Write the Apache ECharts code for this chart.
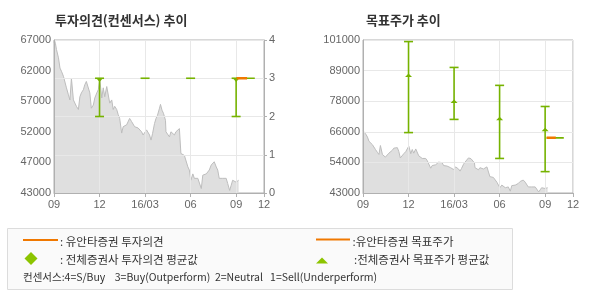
<!DOCTYPE html>
<html><head><meta charset="utf-8">
<script src="https://cdn.jsdelivr.net/npm/echarts@6/dist/echarts.min.js"></script>
<style>html,body{margin:0;padding:0;background:#fff}#c{width:590px;height:300px}</style>
</head><body><div id="c"></div><script>
// days since 2015-09-01
const priceDay = [0,1,3,5,9,12,15,19,22,25,29,32,35,39,42,45,49,52,55,59,62,65,69,72,75,79,82,86,89,92,96,99,102,106,109,112,116,119,122,126,129,132,136,139,142,146,149,152,156,159,162,166,169,172,176,179,182,186,188,192,195,198,202,205,208,212,214,217,220,224,225,229,232,235,239,242,245,249,252,253,255,259,262,265,269,272,275,279,282,286,289,292,296,299,302,306,309,312,316,319,322,326,329,332,336,339,342,346,349,353,356,359,363,366,369,371];
const priceValue = [66600,67000,66400,65500,64200,62600,62100,61300,61000,59500,58400,57600,61000,57600,57100,56600,56100,58100,58700,59200,60000,60500,60200,58700,56300,56800,57900,58700,59200,60800,57900,59500,58100,59700,60000,57100,57600,56100,56600,56100,55300,54700,52400,53400,53200,53700,53400,54700,54200,54500,53400,53700,53200,53200,52600,52100,51900,52900,52600,52100,51300,52300,53900,54700,55200,56300,56900,56000,55500,54400,52600,52300,51800,52600,52300,52100,52600,52900,53100,52900,49200,48900,48900,48700,47100,46600,45000,46000,45300,45000,45300,45300,43700,45800,45800,46000,46000,46600,47400,47600,47900,47100,46600,45300,45000,45300,45000,45300,44500,43400,44200,45000,45300,44700,45000,45000];

const xTickLabels = ['09','12','16/03','06','09','12'];
const opinionPriceTicks = ['43000','47000','52000','57000','62000','67000'];
const opinionTicks = ['0','1','2','3','4'];
const targetPriceTicks = ['43000','54000','66000','78000','89000','101000'];

const barDay = [91.5,183,274.5,366];
const opinionLow = [2,3,3,2];
const opinionHigh = [3,3,3,3];
const opinionAvg = [2.97,null,null,2.97];
const targetLow = [65900,70900,56100,51100];
const targetHigh = [100400,90600,83800,75800];
const targetAvg = [87400,77500,71000,66800];

const yuantaOpinionDay = [367,388], yuantaOpinion = 3;
const consOpinionDay = [366,403.5], consOpinion = 3;
const yuantaTargetDay = [369,387.5], yuantaTarget = 63900;
const consTargetDay = [369,403.5], consTarget = 63900;

const GREEN = '#76b300', ORANGE = '#f07800', LEG_GREEN = '#8cc400';
const AXIS = '#b0b0b0', GRIDC = '#e8e8e8', LBL = '#666';
const NUMFONT = 'Liberation Sans, Arial, sans-serif';
const KFONT = '"Noto Sans CJK KR", sans-serif';

const chart = echarts.init(document.getElementById('c'), null, {renderer:'canvas'});

function xAxis(gi){
  return {gridIndex:gi, type:'value', min:0, max:422, interval:91.5, z:3,
    axisLine:{lineStyle:{color:AXIS}}, axisTick:{show:true,length:4,lineStyle:{color:AXIS}},
    axisLabel:{color:LBL, fontSize:11, fontFamily:NUMFONT, margin:6,
      formatter:v=> v>=420 ? xTickLabels[5] : xTickLabels[Math.round(v/91.5)]},
    splitLine:{show:true, lineStyle:{color:GRIDC}}};
}
function errBars(xi, yi, lows, highs){
  return {type:'custom', xAxisIndex:xi, yAxisIndex:yi, z:10, silent:true,
    data: barDay.map((d,i)=>[d, lows[i], highs[i]]),
    renderItem(params, api){
      const x=api.value(0), lo=api.value(1), hi=api.value(2);
      const a=api.coord([x,hi]), b=api.coord([x,lo]);
      const st={stroke:GREEN, lineWidth:1.6, fill:null};
      const hw=4.5;
      const ch=[{type:'line', shape:{x1:a[0]-hw,y1:a[1],x2:a[0]+hw,y2:a[1]}, style:st}];
      if (Math.abs(b[1]-a[1])>0.5){
        ch.push({type:'line', shape:{x1:a[0],y1:a[1],x2:b[0],y2:b[1]}, style:st});
        ch.push({type:'line', shape:{x1:b[0]-hw,y1:b[1],x2:b[0]+hw,y2:b[1]}, style:st});
      }
      return {type:'group', children:ch};
    }};
}
function avgMarks(xi, yi, avgs, down){
  return {type:'custom', xAxisIndex:xi, yAxisIndex:yi, z:11, silent:true,
    data: barDay.map((d,i)=>[d, avgs[i]]).filter(p=>p[1]!=null),
    renderItem(params, api){
      const p=api.coord([api.value(0), api.value(1)]);
      const pts = down ? [[p[0]-3.5,p[1]-1.5],[p[0]+3.5,p[1]-1.5],[p[0],p[1]+2.5]]
                       : [[p[0]-3.5,p[1]+1],[p[0]+3.5,p[1]+1],[p[0],p[1]-2.5]];
      return {type:'polygon', shape:{points:pts}, style:{fill:GREEN}};
    }};
}
function seg(xi, yi, days, val, color, w, z){
  return {type:'line', xAxisIndex:xi, yAxisIndex:yi, z:z, symbol:'none', silent:true,
    data: days.map(d=>[d,val]), lineStyle:{color:color, width:w}};
}
function priceArea(xi, yi){
  return {type:'line', xAxisIndex:xi, yAxisIndex:yi, z:2, symbol:'none', silent:true,
    data: priceDay.map((d,i)=>[d, priceValue[i]]),
    lineStyle:{color:'#bdbdbd', width:1}, areaStyle:{color:'#dfdfdf', opacity:1, origin:'start'}};
}

const option = {
  animation:false,
  title:[
    {text:'투자의견(컨센서스) 추이', left:55, top:14, padding:0,
     textStyle:{fontSize:13, fontWeight:'bold', color:'#333', fontFamily:KFONT}},
    {text:'목표주가 추이', left:366, top:14, padding:0,
     textStyle:{fontSize:13, fontWeight:'bold', color:'#333', fontFamily:KFONT}}
  ],
  grid:[
    {left:54, width:210, top:40, height:153, show:true, borderColor:AXIS, borderWidth:1, backgroundColor:'#fff'},
    {left:363, width:210, top:40, height:153, show:true, borderColor:AXIS, borderWidth:1, backgroundColor:'#fff'}
  ],
  xAxis:[xAxis(0), xAxis(1)],
  yAxis:[
    {gridIndex:0, type:'value', min:0, max:5, interval:1, z:3,
      axisLine:{show:true, lineStyle:{color:AXIS}}, axisTick:{show:false},
      axisLabel:{color:LBL, fontSize:11, fontFamily:NUMFONT, margin:3, formatter:v=>opinionPriceTicks[Math.round(v)]},
      splitLine:{show:false}},
    {gridIndex:0, type:'value', position:'right', min:0, max:4, interval:1, z:3,
      axisLine:{show:true, lineStyle:{color:AXIS}}, axisTick:{show:true, length:3, lineStyle:{color:AXIS}},
      axisLabel:{color:LBL, fontSize:11, fontFamily:NUMFONT, margin:5, formatter:v=>opinionTicks[Math.round(v)]},
      splitLine:{show:true, lineStyle:{color:GRIDC}}},
    {gridIndex:0, type:'value', min:43000, max:67000, show:false, splitLine:{show:false}},
    {gridIndex:1, type:'value', min:0, max:5, interval:1, z:3,
      axisLine:{show:true, lineStyle:{color:AXIS}}, axisTick:{show:false},
      axisLabel:{color:LBL, fontSize:11, fontFamily:NUMFONT, margin:3, formatter:v=>targetPriceTicks[Math.round(v)]},
      splitLine:{show:true, lineStyle:{color:GRIDC}}},
    {gridIndex:1, type:'value', min:43000, max:101000, show:false, splitLine:{show:false}}
  ],
  series:[
    priceArea(0,2),
    seg(0,1,consOpinionDay,consOpinion,GREEN,1.6,8),
    errBars(0,1,opinionLow,opinionHigh),
    avgMarks(0,1,opinionAvg,true),
    seg(0,1,yuantaOpinionDay,yuantaOpinion,ORANGE,2.5,12),
    priceArea(1,4),
    errBars(1,4,targetLow,targetHigh),
    avgMarks(1,4,targetAvg,false),
    seg(1,4,consTargetDay,consTarget,GREEN,1.6,8),
    seg(1,4,yuantaTargetDay,yuantaTarget,ORANGE,2.5,12)
  ],
  graphic:[
    {type:'rect', shape:{x:7.5,y:228.5,width:505,height:61}, style:{fill:'#fafafa', stroke:'#dcdcdc', lineWidth:1}},
    {type:'line', shape:{x1:23,y1:240,x2:58,y2:240}, style:{stroke:ORANGE, lineWidth:2}},
    {type:'text', x:60, y:241.5, style:{text:': 유안타증권 투자의견', font:'11.5px '+KFONT, fill:'#333', verticalAlign:'middle'}},
    {type:'polygon', shape:{points:[[31,252],[37.5,258.5],[31,265],[24.5,258.5]]}, style:{fill:LEG_GREEN}},
    {type:'text', x:60, y:259.5, style:{text:': 전체증권사 투자의견 평균값', font:'11.5px '+KFONT, fill:'#333', verticalAlign:'middle'}},
    {type:'line', shape:{x1:316,y1:239.5,x2:350,y2:239.5}, style:{stroke:ORANGE, lineWidth:2}},
    {type:'text', x:352.5, y:241.5, style:{text:':유안타증권 목표주가', font:'11.5px '+KFONT, fill:'#333', verticalAlign:'middle'}},
    {type:'polygon', shape:{points:[[316,263.5],[328,263.5],[322,257.5]]}, style:{fill:LEG_GREEN}},
    {type:'text', x:354, y:259.5, style:{text:':전체증권사 목표주가 평균값', font:'11.5px '+KFONT, fill:'#333', verticalAlign:'middle'}},
    {type:'text', x:23, y:277.5, style:{text:'컨센서스:4=S/Buy    3=Buy(Outperform)  2=Neutral   1=Sell(Underperform)', font:'10.5px '+KFONT, fill:'#333', verticalAlign:'middle'}}
  ]
};
chart.setOption(option);
</script></body></html>
